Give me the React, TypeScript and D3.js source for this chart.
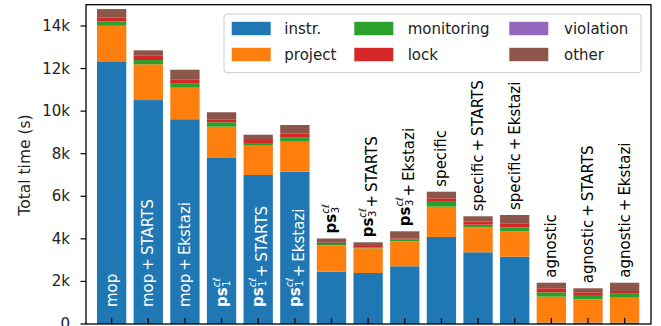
import React from "react";
import * as d3 from "d3";

const categories = [
  "mop", "mop+STARTS", "mop+Ekstazi",
  "ps_1", "ps_1+STARTS", "ps_1+Ekstazi",
  "ps_3", "ps_3+STARTS", "ps_3+Ekstazi",
  "specific", "specific+STARTS", "specific+Ekstazi",
  "agnostic", "agnostic+STARTS", "agnostic+Ekstazi",
];
const instr = [12340, 10520, 9620, 7800, 7000, 7155, 2457, 2396, 2711, 4087, 3368, 3162, 70, 70, 70];
const project = [1670, 1680, 1480, 1470, 1376, 1409, 1240, 1160, 1174, 1424, 1175, 1193, 1213, 1090, 1166];
const monitoring = [207, 200, 188, 207, 126, 188, 60, 50, 75, 267, 122, 188, 206, 202, 187];
const lock = [188, 200, 207, 140, 188, 207, 62, 58, 66, 127, 141, 188, 188, 127, 127];
const violation = [0, 0, 0, 0, 0, 0, 0, 0, 0, 0, 0, 0, 0, 0, 0];
const other = [390, 255, 450, 330, 202, 390, 198, 174, 329, 310, 254, 390, 263, 188, 390];
const seriesNames = ["instr.", "project", "monitoring", "lock", "violation", "other"];
const colors = ["#1f77b4", "#ff7f0e", "#2ca02c", "#d62728", "#9467bd", "#8c564b"];
const yTicks = [0, 2000, 4000, 6000, 8000, 10000, 12000, 14000];

const W = 661, H = 326;
const L = 86, R = 651, T = 4.7, B = 324;
const FONT = "DejaVu Sans, sans-serif";

function Label({ text, x, y, color }: { text: string; x: number; y: number; color: string }) {
  const [base, suffix] = text.split("+");
  const parts: React.ReactNode[] = [];
  if (base.startsWith("ps_")) {
    const sub = base.slice(3);
    parts.push(<tspan key="ps" fontWeight="bold">ps</tspan>);
    parts.push(<tspan key="sup" fontSize={10} fontStyle="italic" dy={-6}>cℓ</tspan>);
    parts.push(<tspan key="sub" fontSize={10} dx={-9} dy={10}>{sub}</tspan>);
    parts.push(<tspan key="rst" dy={-4} dx={3}>{""}</tspan>);
  } else {
    parts.push(<tspan key="b">{base}</tspan>);
  }
  if (suffix) {
    parts.push(<tspan key="p" dx={3}>+</tspan>);
    parts.push(<tspan key="s" dx={3}>{suffix}</tspan>);
  }
  return (
    <text
      transform={`translate(${x},${y}) rotate(-90)`}
      fill={color}
      fontSize={15}
      fontFamily={FONT}
      dominantBaseline="central"
      textAnchor="start"
    >
      {parts}
    </text>
  );
}

export default function App() {
  const x = d3.scaleLinear().domain([-0.7, 14.72]).range([L, R]);
  const y = d3.scaleLinear().domain([0, 15000]).range([B, T]);
  const bw = x(0.8) - x(0);
  const rows = categories.map((c, i) => ({
    cat: c,
    "instr.": instr[i],
    project: project[i],
    monitoring: monitoring[i],
    lock: lock[i],
    violation: violation[i],
    other: other[i],
  }));
  const stack = d3.stack<any>().keys(seriesNames)(rows);
  const totals = categories.map((_, i) => stack[stack.length - 1][i][1]);

  const legendCols = [
    { hx: 231.7, tx: 284.3 },
    { hx: 354.3, tx: 407.7 },
    { hx: 509.3, tx: 564 },
  ];
  const legendRows = [28.5, 54.5];

  return (
    <svg
      width={W}
      height={H}
      style={{ position: "absolute", left: 0, top: 0, display: "block", background: "#fff" }}
      fontFamily={FONT}
    >
      <rect x={0} y={0} width={W} height={H} fill="#fff" />
      {stack.map((s, k) => (
        <g key={k} fill={colors[k]}>
          {s.map((d, i) =>
            d[1] - d[0] > 0 ? (
              <rect
                key={i}
                x={x(i) - bw / 2}
                y={y(d[1])}
                width={bw}
                height={y(d[0]) - y(d[1])}
              />
            ) : null
          )}
        </g>
      ))}
      {categories.map((c, i) =>
        i < 6 ? (
          <Label key={c} text={c} x={x(i)} y={y(0) - 17} color="#fff" />
        ) : (
          <Label key={c} text={c} x={x(i)} y={y(totals[i]) - 5} color="#000" />
        )
      )}
      {categories.map((c, i) => (
        <line key={c} x1={x(i)} x2={x(i)} y1={B} y2={B - 6} stroke="#000" strokeWidth={1.2} />
      ))}
      {yTicks.map((t) => (
        <g key={t}>
          <line x1={L - 5.5} x2={L} y1={y(t)} y2={y(t)} stroke="#000" strokeWidth={1.2} />
          <text x={70} y={y(t)} textAnchor="end" dominantBaseline="central" fontSize={15} fill="#222">
            {t === 0 ? "0" : `${t / 1000}k`}
          </text>
        </g>
      ))}
      <text
        transform={`translate(25,165) rotate(-90)`}
        textAnchor="middle"
        dominantBaseline="central"
        fontSize={15.5}
        fill="#222"
      >
        Total time (s)
      </text>
      <rect x={L} y={T} width={R - L} height={B - T} fill="none" stroke="#000" strokeWidth={1.3} />
      <rect x={224} y={14} width={417} height={58.7} rx={3} fill="#fff" fillOpacity={0.8} stroke="#ccc" strokeWidth={1} />
      {seriesNames.map((n, k) => {
        const col = legendCols[Math.floor(k / 2)];
        const ry = legendRows[k % 2];
        return (
          <g key={n}>
            <rect x={col.hx} y={ry - 6.7} width={39} height={13.4} fill={colors[k]} />
            <text x={col.tx} y={ry} dominantBaseline="central" fontSize={15} fill="#222">
              {n}
            </text>
          </g>
        );
      })}
    </svg>
  );
}
